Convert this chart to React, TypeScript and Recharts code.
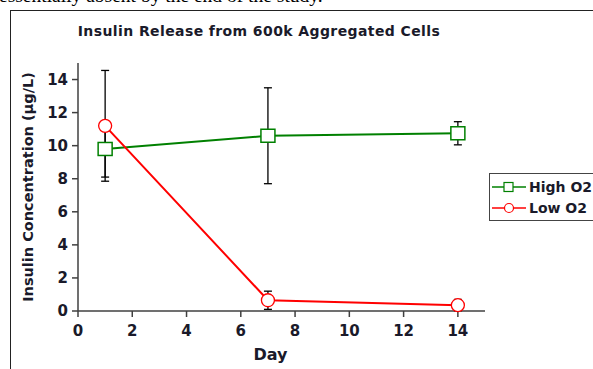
import { LineChart, Line, XAxis, YAxis, ErrorBar, Legend } from 'recharts';

const days = [1, 7, 14];
const highO2 = [9.8, 10.6, 10.75];
const highO2Err = [1.7, 2.9, 0.7];
const lowO2 = [11.2, 0.65, 0.35];
const lowO2Err = [3.35, 0.55, 0.35];
const xTicks = [0, 2, 4, 6, 8, 10, 12, 14];
const yTicks = [0, 2, 4, 6, 8, 10, 12, 14];

const data = days.map((d, i) => ({
  day: d,
  high: highO2[i],
  highErr: highO2Err[i],
  low: lowO2[i],
  lowErr: lowO2Err[i],
}));

const FONT = 'DejaVu Sans, Verdana, sans-serif';
const GREEN = '#008000';
const RED = '#ff0000';
const AXIS = '#404040';
const TEXT = '#1a1a2a';

const SquareDot = (props: any) => {
  const { cx, cy, key } = props;
  if (cx == null || cy == null) return null;
  return <rect key={key} x={cx - 7} y={cy - 6.5} width={14} height={13} fill="#fff" stroke={GREEN} strokeWidth={1.5} />;
};

const CircleDot = (props: any) => {
  const { cx, cy, key } = props;
  if (cx == null || cy == null) return null;
  return <circle key={key} cx={cx} cy={cy} r={6.5} fill="#fff" stroke={RED} strokeWidth={1.3} />;
};

const renderLegend = (props: any) => {
  const { payload } = props;
  return (
    <div
      style={{
        border: '1.5px solid #444',
        background: '#fff',
        padding: '2px 0 2px 2px',
        fontFamily: FONT,
        fontWeight: 'bold',
        fontSize: 14,
        color: TEXT,
      }}
    >
      {(payload || []).map((entry: any) => (
        <div key={entry.value} style={{ display: 'flex', alignItems: 'center', height: 21 }}>
          <svg width={36} height={14} style={{ marginRight: 1 }}>
            <line x1={0} y1={7} x2={34} y2={7} stroke={entry.color} strokeWidth={1.5} />
            {entry.value === 'High O2' ? (
              <rect x={12} y={2.5} width={9} height={9} fill="#fff" stroke={entry.color} strokeWidth={1.2} />
            ) : (
              <circle cx={17} cy={7} r={4.5} fill="#fff" stroke={entry.color} strokeWidth={1.2} />
            )}
          </svg>
          <span style={{ whiteSpace: 'nowrap' }}>{entry.value}</span>
        </div>
      ))}
    </div>
  );
};

export default function App() {
  return (
    <div style={{ position: 'absolute', left: 0, top: 0, width: 593, height: 369, overflow: 'hidden', background: '#fff' }}>
      {/* text from the surrounding document, cut off at the top */}
      <div
        style={{
          position: 'absolute',
          left: -1,
          top: -15,
          fontFamily: 'Liberation Serif, Times New Roman, serif',
          fontSize: 19.5,
          whiteSpace: 'nowrap',
          color: '#000',
        }}
      >
        essentially absent by the end of the study.
      </div>
      {/* frame around the chart */}
      <div style={{ position: 'absolute', left: 10, top: 10, width: 700, height: 500, border: '1.2px solid #222' }} />
      <div
        style={{
          position: 'absolute',
          left: 0,
          width: 518,
          top: 23,
          textAlign: 'center',
          fontFamily: FONT,
          fontWeight: 'bold',
          fontSize: 14,
          letterSpacing: 0.4,
          color: TEXT,
          whiteSpace: 'nowrap',
        }}
      >
        Insulin Release from 600k Aggregated Cells
      </div>
      <div style={{ position: 'absolute', left: 0, top: 0 }}>
        <LineChart width={593} height={369} data={data} margin={{ top: 63, right: 108, bottom: 18, left: 38 }}>
          <XAxis
            dataKey="day"
            type="number"
            domain={[0, 15]}
            ticks={xTicks}
            height={40}
            tickSize={6}
            tickMargin={8}
            axisLine={{ stroke: AXIS, strokeWidth: 1.5 }}
            tickLine={{ stroke: AXIS, strokeWidth: 1.5 }}
            tick={{ fill: TEXT, fontFamily: FONT, fontWeight: 'bold', fontSize: 15 }}
            label={{
              value: 'Day',
              position: 'insideBottom',
              offset: -9,
              dx: -11,
              style: { fill: TEXT, fontFamily: FONT, fontWeight: 'bold', fontSize: 16 },
            }}
          />
          <YAxis
            type="number"
            domain={[0, 15]}
            ticks={yTicks}
            width={40}
            tickSize={6}
            tickMargin={4}
            axisLine={{ stroke: AXIS, strokeWidth: 1.5 }}
            tickLine={{ stroke: AXIS, strokeWidth: 1.5 }}
            tick={{ fill: TEXT, fontFamily: FONT, fontWeight: 'bold', fontSize: 15 }}
            label={{
              value: 'Insulin Concentration (µg/L)',
              angle: -90,
              position: 'insideLeft',
              offset: -10,
              style: { textAnchor: 'middle', fill: TEXT, fontFamily: FONT, fontWeight: 'bold', fontSize: 14.5 },
            }}
          />
          <Legend
            layout="vertical"
            align="center"
            verticalAlign="middle"
            wrapperStyle={{ left: 489, top: 173, width: 140 }}
            content={renderLegend}
          />
          <Line
            dataKey="high"
            name="High O2"
            stroke={GREEN}
            strokeWidth={2}
            dot={SquareDot}
            activeDot={false}
            isAnimationActive={false}
          >
            <ErrorBar dataKey="highErr" width={4} stroke="#000" strokeWidth={1.3} direction="y" />
          </Line>
          <Line
            dataKey="low"
            name="Low O2"
            stroke={RED}
            strokeWidth={2}
            dot={CircleDot}
            activeDot={false}
            isAnimationActive={false}
          >
            <ErrorBar dataKey="lowErr" width={4} stroke="#000" strokeWidth={1.3} direction="y" />
          </Line>
        </LineChart>
      </div>
    </div>
  );
}
